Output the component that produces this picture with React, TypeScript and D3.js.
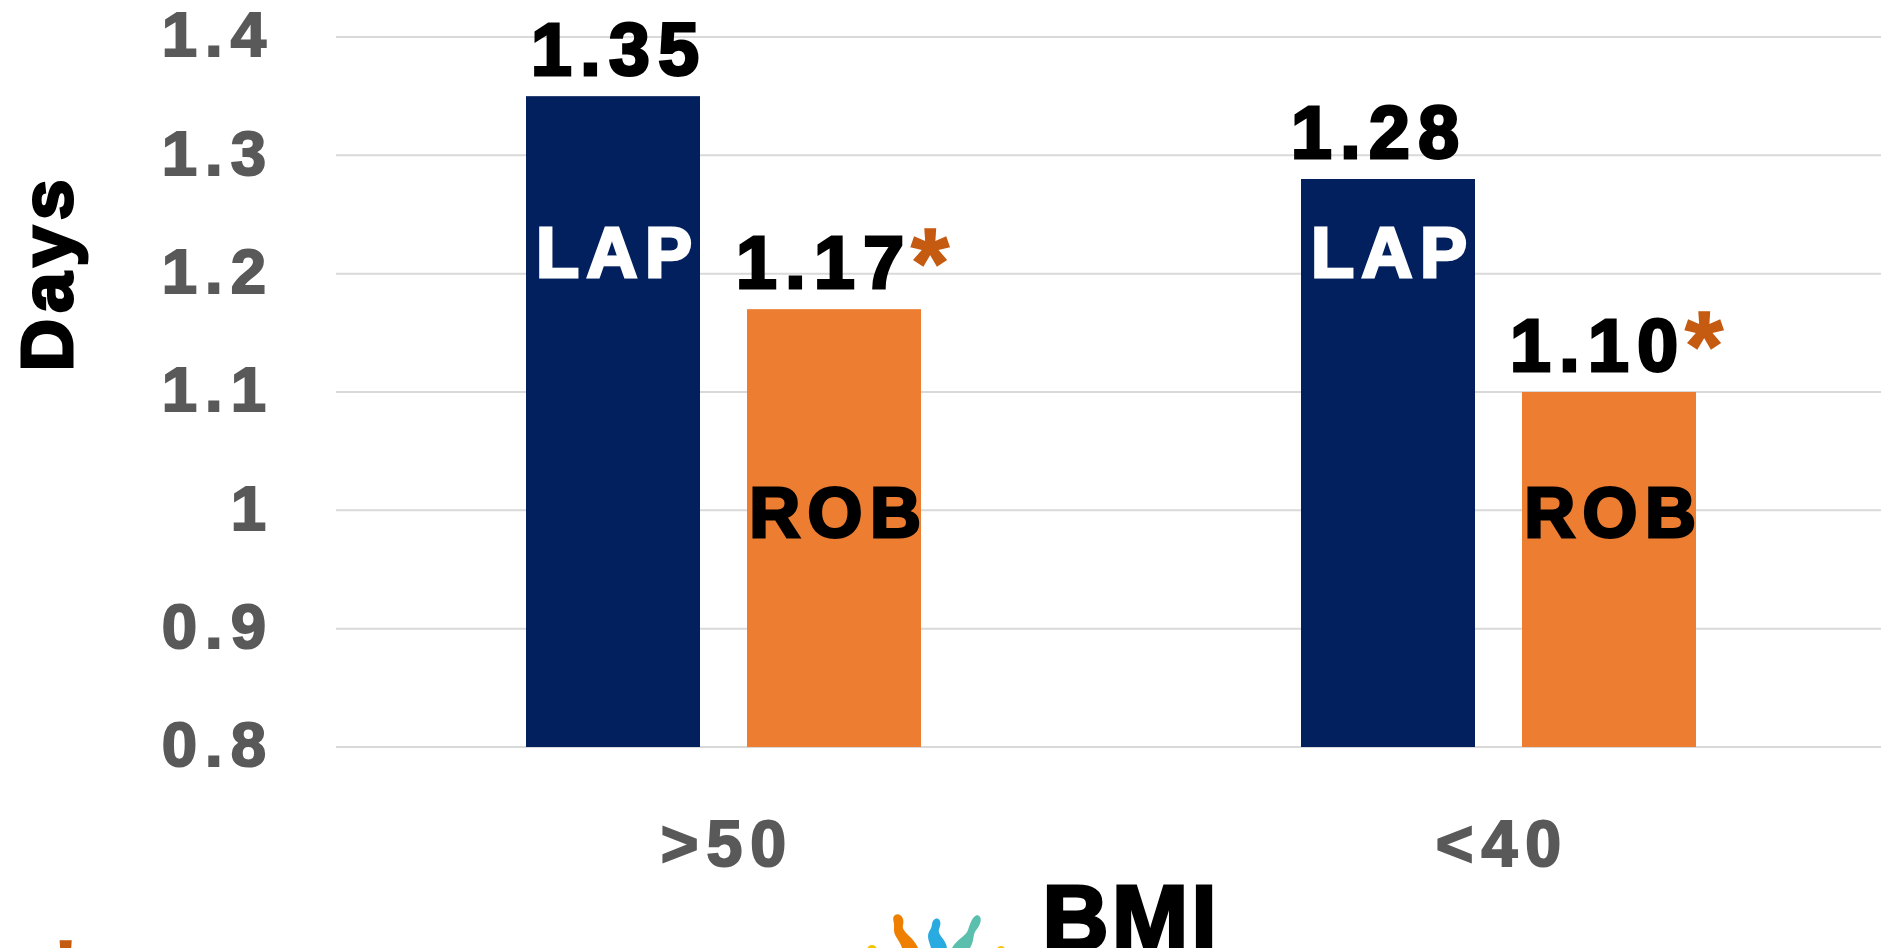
import React from "react";
import * as d3 from "d3";

// ---- data ----
const categories: string[] = [">50", "<40"];
const seriesNames: string[] = ["LAP", "ROB"];
const lapValues: number[] = [1.35, 1.28];
const robValues: number[] = [1.17, 1.1];
const robSignificant: boolean[] = [true, true];
const yTicks: number[] = [0.8, 0.9, 1.0, 1.1, 1.2, 1.3, 1.4];
const yTitle = "Days";
const xTitle = "BMI";

const W = 1881;
const H = 948;
const FONT = "'Liberation Sans', Arial, Helvetica, sans-serif";
const NAVY = "#02205E";
const ORANGE = "#ED7D31";
const STAR = "#C55A11";
const GRID = "#D9D9D9";
const AXIS_TEXT = "#595959";

type STProps = {
  x: number;
  y: number;
  ls?: number;
  sw?: number;
  rotate?: number;
  anchor?: "start" | "middle" | "end";
  size: number;
  fill: string;
  children: React.ReactNode;
};

// Text with optional letter spacing (compensated for anchor) and a thin same-colour stroke for weight
function SText({ x, y, ls = 0, sw = 0, rotate = 0, anchor = "middle", size, fill, children }: STProps) {
  const shift = anchor === "middle" ? ls / 2 : anchor === "end" ? ls : 0;
  return (
    <text
      transform={`translate(${x},${y}) rotate(${rotate})`}
      x={shift}
      y={0}
      textAnchor={anchor}
      fontSize={size}
      fontWeight="bold"
      fontFamily={FONT}
      fill={fill}
      stroke={sw > 0 ? fill : "none"}
      strokeWidth={sw}
      style={{ letterSpacing: `${ls}px` }}
    >
      {children}
    </text>
  );
}

export default function App() {
  const y = d3.scaleLinear().domain([0.8, 1.4]).range([747, 37]);
  const x0 = d3.scaleBand<string>().domain(categories).range([336, 1886]).paddingInner(0).paddingOuter(0);
  const x1 = d3
    .scaleBand<string>()
    .domain(seriesNames)
    .range([0, x0.bandwidth()])
    .paddingInner(0.2127)
    .paddingOuter(0.8597);
  const fmt = d3.format(".2f");
  const tickFmt = d3.format("~g");

  const seriesValues: Record<string, number[]> = { LAP: lapValues, ROB: robValues };
  const seriesColor: Record<string, string> = { LAP: NAVY, ROB: ORANGE };
  const labelDx: Record<string, number[]> = { LAP: [2, -13], ROB: [-14, -15] };
  const innerLabelY: Record<string, number> = { LAP: 277, ROB: 537 };
  const innerLabelFill: Record<string, string> = { LAP: "#FFFFFF", ROB: "#000000" };

  return (
    <svg
      width={W}
      height={H}
      style={{ position: "absolute", left: 0, top: 0, background: "#fff" }}
    >
      <rect x={0} y={0} width={W} height={H} fill="#fff" />
      {/* gridlines */}
      {yTicks.map((t) => (
        <line key={"g" + t} x1={336} x2={W} y1={y(t)} y2={y(t)} stroke={GRID} strokeWidth={2} />
      ))}
      {/* y tick labels */}
      {yTicks.map((t) => (
        <SText key={"t" + t} x={266} y={y(t) + 19.25} ls={8} sw={2} anchor="end" size={63.5} fill={AXIS_TEXT}>
          {tickFmt(t)}
        </SText>
      ))}
      {/* bars */}
      {categories.map((c, i) => (
        <g key={"c" + c}>
          {seriesNames.map((s) => {
            const v = seriesValues[s][i];
            const bx = (x0(c) as number) + (x1(s) as number);
            const bw = x1.bandwidth();
            const cx = bx + bw / 2;
            const ly = y(v) - 20.75;
            const lx = cx + labelDx[s][i];
            return (
              <g key={s}>
                <rect x={bx} y={y(v)} width={bw} height={y(0.8) - y(v)} fill={seriesColor[s]} />
                <SText x={lx} y={ly} ls={8.5} sw={3} size={73.3} fill="#000">
                  {fmt(v)}
                </SText>
                {s === "ROB" && robSignificant[i] && (
                  <SText x={lx + 91} y={ly + 9} sw={1.5} anchor="start" size={98} fill={STAR}>
                    *
                  </SText>
                )}
                <SText x={cx + 1} y={innerLabelY[s]} ls={7.5} sw={3} size={70.5} fill={innerLabelFill[s]}>
                  {s}
                </SText>
              </g>
            );
          })}
          <SText
            x={(x0(c) as number) + x0.bandwidth() / 2}
            y={865.75}
            ls={8}
            sw={2}
            size={64.5}
            fill={AXIS_TEXT}
          >
            {c}
          </SText>
        </g>
      ))}
      {/* axis titles */}
      <SText x={71.8} y={275.5} rotate={-90} ls={6} sw={3} size={72.6} fill="#000">
        {yTitle}
      </SText>
      <SText x={1129.5} y={949.5} ls={3} sw={3} size={92} fill="#000">
        {xTitle}
      </SText>
      {/* logo fragment */}
      <g>
        <path
          d="M 895 915 C 900 912, 905 918, 903 925 C 901 932, 913 936, 918 948 L 902 948 C 900 940, 893 936, 894 928 C 895 922, 891 918, 895 915 Z"
          fill="#EE7F00"
        />
        <path
          d="M 935 919 C 940 917, 942 923, 939 929 C 937 935, 946 939, 947 948 L 931 948 C 929 941, 926 936, 930 930 C 933 926, 931 921, 935 919 Z"
          fill="#29ABE2"
        />
        <path
          d="M 977 915 C 983 916, 981 924, 977 929 C 972 934, 975 940, 970 948 L 952 948 C 956 940, 966 936, 968 930 C 970 924, 972 917, 977 915 Z"
          fill="#5BBFAD"
        />
        <circle cx={872} cy={950} r={5} fill="#F5C400" />
        <circle cx={1001} cy={950} r={4} fill="#F5C400" />
      </g>
      {/* footnote asterisk (cut off) */}
      <SText x={46} y={1010} sw={1.5} anchor="start" size={100} fill={STAR}>
        *
      </SText>
    </svg>
  );
}
